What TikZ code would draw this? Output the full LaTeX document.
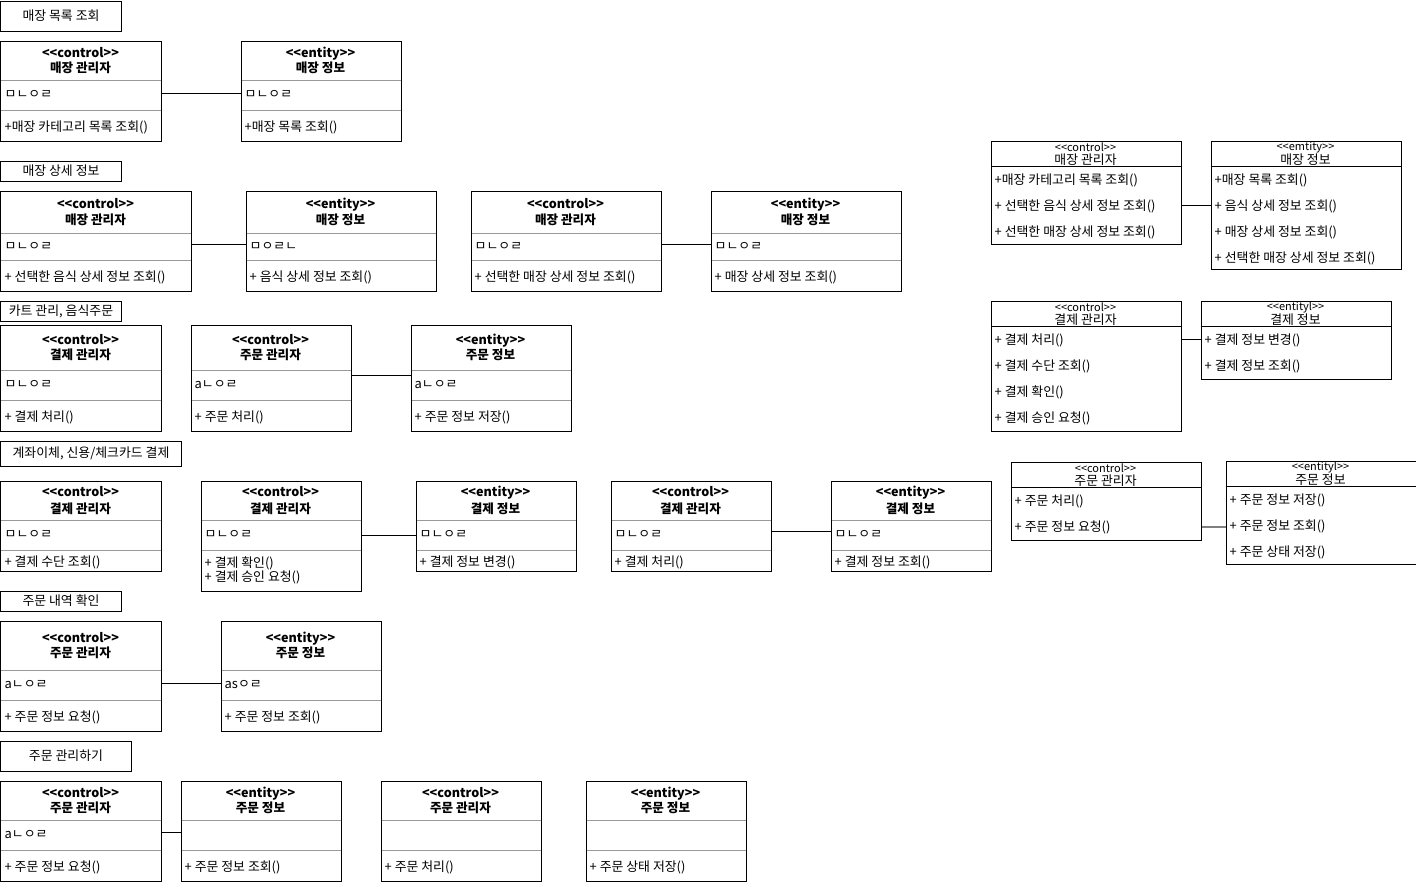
\documentclass[tikz,border=0pt]{standalone}
\usepackage{fontspec}
\setmainfont{Noto Sans CJK KR}
\newcommand\st[1]{<{}<#1>{}>}
\tikzset{
  every node/.style={font=\fontsize{12.9}{15}\selectfont, inner sep=0pt},
  umlbox/.style={draw, line width=1pt, inner sep=0pt, anchor=north west},
  titlebox/.style={draw, line width=1pt, inner sep=0pt, anchor=north west},
  hdr/.style={font=\fontsize{12.6}{14.5}\selectfont\bfseries, align=center},
  cell/.style={anchor=west, text height=9pt, text depth=2.5pt},
  divl/.style={draw=black!40, line width=0.8pt},
  conn/.style={draw, line width=1pt},
  rdiv/.style={line width=1pt},
  rstereo/.style={font=\fontsize{11}{12}\selectfont},
  grayconn/.style={draw=black!50, line width=2pt},
}
\newcommand\ubox[9]{%
  \draw[divl] (#2,#3+#6) -- (#2+#4,#3+#6);
  \draw[divl] (#2,#3+#7) -- (#2+#4,#3+#7);
  \node[umlbox, minimum width=#4pt, minimum height=#5pt] (#1) at (#2,#3) {};
  \node[hdr] (#1-h) at (#2+#4/2,#3+#6/2) {#8};
  \node[cell] (#1-a) at (#2+4,#3+#6/2+#7/2) {#9};
  \coordinate (#1-m) at (#2+4,#3+#7/2+#5/2+3);
}
\newcommand\umeth[2]{\node[cell] (#1-mt) at (#1-m) {#2};}
\newcommand\rbox[8]{%
  \node[umlbox, minimum width=#4pt, minimum height=#5pt] (#1) at (#2,#3) {};
  \draw[rdiv] (#2,#3+26) -- (#2+#4,#3+26);
  \node[rstereo] (#1-s) at (#2+#4/2,#3+7) {#6};
  \node[text height=9pt, text depth=2.5pt] (#1-t) at (#2+#4/2,#3+21) {#7};
  \foreach \m [count=\i] in {#8} {\node[cell] (#1-m\i) at (#2+4,#3+15+26*\i) {\m};}
}
\begin{document}
\begin{tikzpicture}[x=1pt,y=-1pt]
\useasboundingbox (-0.5,-0.5) rectangle (1415.5,883.5);

% section titles
\node[titlebox, minimum width=120pt, minimum height=30pt] (t1) at (0,0) {매장 목록 조회};
\node[titlebox, minimum width=120pt, minimum height=20pt] (t2) at (0,160) {매장 상세 정보};
\node[titlebox, minimum width=120pt, minimum height=20pt] (t3) at (0,300) {카트 관리, 음식주문};
\node[titlebox, minimum width=180pt, minimum height=25pt] (t4) at (0,440) {계좌이체, 신용/체크카드 결제};
\node[titlebox, minimum width=120pt, minimum height=20pt] (t5) at (0,590) {주문 내역 확인};
\node[titlebox, minimum width=130pt, minimum height=30pt] (t6) at (0,740) {주문 관리하기};

% row 1
\ubox{A1}{0}{40}{160}{100}{40}{70}{\st{control}\\매장 관리자}{ㅁㄴㅇㄹ}
\umeth{A1}{+매장 카테고리 목록 조회()}
\ubox{A2}{240}{40}{160}{100}{40}{70}{\st{entity}\\매장 정보}{ㅁㄴㅇㄹ}
\umeth{A2}{+매장 목록 조회()}
\coordinate (yA) at (0,93);
\draw[conn] (A1.east |- yA) -- (A2.west |- yA);

% row 2
\ubox{B1}{0}{190}{190}{100}{43}{70}{\st{control}\\[2pt]매장 관리자}{ㅁㄴㅇㄹ}
\umeth{B1}{+ 선택한 음식 상세 정보 조회()}
\ubox{B2}{245}{190}{190}{100}{43}{70}{\st{entity}\\[2pt]매장 정보}{ㅁㅇㄹㄴ}
\umeth{B2}{+ 음식 상세 정보 조회()}
\ubox{B3}{470}{190}{190}{100}{43}{70}{\st{control}\\[2pt]매장 관리자}{ㅁㄴㅇㄹ}
\umeth{B3}{+ 선택한 매장 상세 정보 조회()}
\ubox{B4}{710}{190}{190}{100}{43}{70}{\st{entity}\\[2pt]매장 정보}{ㅁㄴㅇㄹ}
\umeth{B4}{+ 매장 상세 정보 조회()}
\coordinate (yB) at (0,244);
\draw[conn] (B1.east |- yB) -- (B2.west |- yB);
\draw[conn] (B3.east |- yB) -- (B4.west |- yB);

% row 3
\ubox{C1}{0}{324}{160}{106}{46}{76}{\st{control}\\결제 관리자}{ㅁㄴㅇㄹ}
\umeth{C1}{+ 결제 처리()}
\ubox{C2}{190}{324}{160}{106}{46}{76}{\st{control}\\주문 관리자}{aㄴㅇㄹ}
\umeth{C2}{+ 주문 처리()}
\ubox{C3}{410}{324}{160}{106}{46}{76}{\st{entity}\\주문 정보}{aㄴㅇㄹ}
\umeth{C3}{+ 주문 정보 저장()}
\coordinate (yC) at (0,375);
\draw[conn] (C2.east |- yC) -- (C3.west |- yC);

% row 4
\ubox{D1}{0}{480}{160}{90}{40}{70}{\st{control}\\[3pt]결제 관리자}{ㅁㄴㅇㄹ}
\umeth{D1}{+ 결제 수단 조회()}
\ubox{D2}{200}{480}{160}{110}{40}{70}{\st{control}\\[3pt]결제 관리자}{ㅁㄴㅇㄹ}
\node[anchor=west, align=left, font=\fontsize{12.9}{14}\selectfont] (D2-mt) at ([yshift=3pt]D2-m) {+ 결제 확인()\\+ 결제 승인 요청()};
\ubox{D3}{415}{480}{160}{90}{40}{70}{\st{entity}\\[3pt]결제 정보}{ㅁㄴㅇㄹ}
\umeth{D3}{+ 결제 정보 변경()}
\ubox{D4}{610}{480}{160}{90}{40}{70}{\st{control}\\[3pt]결제 관리자}{ㅁㄴㅇㄹ}
\umeth{D4}{+ 결제 처리()}
\ubox{D5}{830}{480}{160}{90}{40}{70}{\st{entity}\\[3pt]결제 정보}{ㅁㄴㅇㄹ}
\umeth{D5}{+ 결제 정보 조회()}
\coordinate (yD1) at (0,535);
\coordinate (yD2) at (0,531);
\draw[conn] (D2.east |- yD1) -- (D3.west |- yD1);
\draw[conn] (D4.east |- yD2) -- (D5.west |- yD2);

% row 5
\ubox{E1}{0}{620}{160}{110}{50}{80}{\st{control}\\주문 관리자}{aㄴㅇㄹ}
\umeth{E1}{+ 주문 정보 요청()}
\ubox{E2}{220}{620}{160}{110}{50}{80}{\st{entity}\\주문 정보}{asㅇㄹ}
\umeth{E2}{+ 주문 정보 조회()}
\coordinate (yE) at (0,683);
\draw[conn] (E1.east |- yE) -- (E2.west |- yE);

% row 6
\ubox{F1}{0}{780}{160}{100}{40}{70}{\st{control}\\주문 관리자}{aㄴㅇㄹ}
\umeth{F1}{+ 주문 정보 요청()}
\ubox{F2}{180}{780}{160}{100}{40}{70}{\st{entity}\\주문 정보}{}
\umeth{F2}{+ 주문 정보 조회()}
\ubox{F3}{380}{780}{160}{100}{40}{70}{\st{control}\\주문 관리자}{}
\umeth{F3}{+ 주문 처리()}
\ubox{F4}{585}{780}{160}{100}{40}{70}{\st{entity}\\주문 정보}{}
\umeth{F4}{+ 주문 상태 저장()}
\coordinate (yF) at (0,832);
\draw[conn] (F1.east |- yF) -- (F2.west |- yF);

% right side summary classes
\rbox{G1}{990}{140}{190}{103}{\st{control}}{매장 관리자}{+매장 카테고리 목록 조회(),+ 선택한 음식 상세 정보 조회(),+ 선택한 매장 상세 정보 조회()}
\rbox{G2}{1210}{140}{190}{128}{\st{emtity}}{매장 정보}{+매장 목록 조회(),+ 음식 상세 정보 조회(),+ 매장 상세 정보 조회(),+ 선택한 매장 상세 정보 조회()}
\coordinate (yG) at (0,205);
\draw[conn] (G1.east |- yG) -- (G2.west |- yG);

\rbox{H1}{990}{300}{190}{130}{\st{control}}{결제 관리자}{+ 결제 처리(),+ 결제 수단 조회(),+ 결제 확인(),+ 결제 승인 요청()}
\rbox{H2}{1200}{300}{190}{78}{\st{entityl}}{결제 정보}{+ 결제 정보 변경(),+ 결제 정보 조회()}
\coordinate (yH) at (0,339);
\draw[conn] (H1.east |- yH) -- (H2.west |- yH);

\rbox{I1}{1010}{461}{190}{78}{\st{control}}{주문 관리자}{+ 주문 처리(),+ 주문 정보 요청()}
\rbox{I2}{1225}{460}{190}{103}{\st{entityl}}{주문 정보}{+ 주문 정보 저장(),+ 주문 정보 조회(),+ 주문 상태 저장()}
\coordinate (yI) at (0,526);
\draw[grayconn] (I1.east |- yI) -- (I2.west |- yI);
\end{tikzpicture}
\end{document}
